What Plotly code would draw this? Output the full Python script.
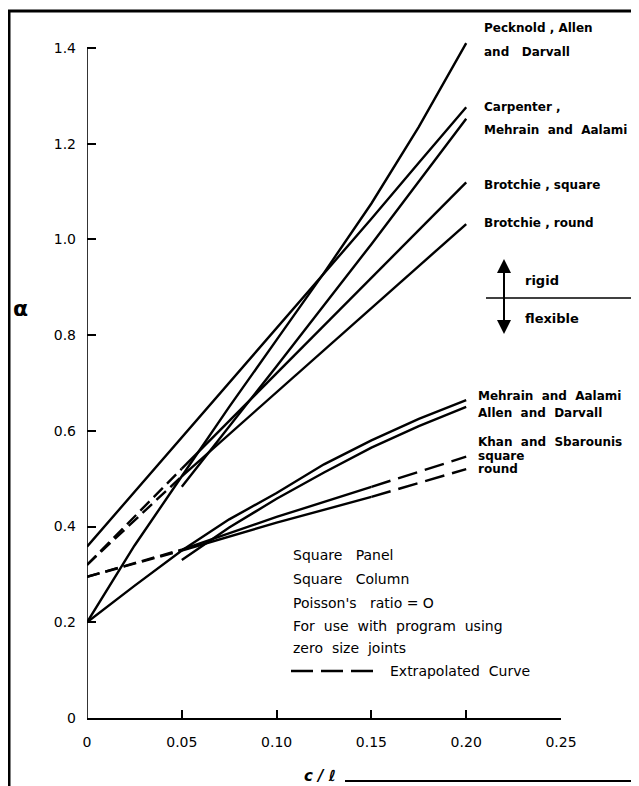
import plotly.graph_objects as go

# ---------------- data ----------------
cl_full = [0, 0.025, 0.05, 0.075, 0.10, 0.125, 0.15, 0.175, 0.20]
pecknold = [0.20, 0.36, 0.505, 0.65, 0.79, 0.93, 1.075, 1.235, 1.41]
carpenter = [0.358, 0.472, 0.586, 0.70, 0.815, 0.93, 1.043, 1.16, 1.276]
mehrain_flex = [0.20, 0.276, 0.35, 0.415, 0.47, 0.53, 0.58, 0.625, 0.664]

cl_solid_mid = [0.05, 0.10, 0.15, 0.20]
mehrain_rigid = [0.483, 0.735, 0.99, 1.252]
brotchie_sq = [0.521, 0.72, 0.92, 1.119]
brotchie_rd = [0.505, 0.68, 0.857, 1.032]

cl_extrap_left = [0, 0.05]
brotchie_sq_ext = [0.32, 0.521]
brotchie_rd_ext = [0.32, 0.505]

cl_allen = [0.05, 0.075, 0.10, 0.125, 0.15, 0.175, 0.20]
allen = [0.33, 0.398, 0.458, 0.513, 0.565, 0.610, 0.650]

cl_khan_solid = [0.05, 0.10, 0.15]
khan_sq = [0.352, 0.42, 0.483]
khan_rd = [0.35, 0.408, 0.462]
khan_sq_left = [0.295, 0.352]
khan_rd_left = [0.295, 0.35]
cl_extrap_right = [0.15, 0.20]
khan_sq_right = [0.483, 0.546]
khan_rd_right = [0.462, 0.520]

x_ticks = [0, 0.05, 0.10, 0.15, 0.20, 0.25]
x_ticktext = ["0", "0.05", "0.10", "0.15", "0.20", "0.25"]
y_ticks = [0, 0.2, 0.4, 0.6, 0.8, 1.0, 1.2, 1.4]
y_ticktext = ["0", "0.2", "0.4", "0.6", "0.8", "1.0", "1.2", "1.4"]

labels_rigid = ["Pecknold , Allen", "and   Darvall", "Carpenter ,",
                "Mehrain  and  Aalami", "Brotchie , square", "Brotchie , round"]
labels_flex = ["Mehrain  and  Aalami", "Allen  and  Darvall",
               "Khan  and  Sbarounis", "square", "round"]
note_lines = ["Square   Panel", "Square   Column", "Poisson's   ratio = O",
              "For  use  with  program  using", "zero  size  joints"]

# ---------------- layout geometry ----------------
# the page body has an 8px margin, so the figure is drawn 8px in from the corner
OFF = 8
W, H = 631, 778
ML, MR, MT, MB = 79, 78, 16, 68
PW, PH = W - ML - MR, H - MT - MB


def px(x):
    """reference-screenshot x pixel -> paper fraction"""
    return (x - OFF - ML) / PW


def py(y):
    """reference-screenshot y pixel -> paper fraction"""
    return (H - MB - (y - OFF)) / PH


FONT = "DejaVu Sans"
LW = 2.4
solid = dict(color="black", width=LW)
dash_short = dict(color="black", width=LW, dash="13px,6px")
dash_long = dict(color="black", width=LW, dash="20px,8px")

fig = go.Figure()


def add(x, y, line):
    fig.add_trace(go.Scatter(x=x, y=y, mode="lines", line=line,
                             showlegend=False, hoverinfo="skip"))


add(cl_full, pecknold, solid)
add(cl_full, carpenter, solid)
add(cl_solid_mid, mehrain_rigid, solid)
add(cl_solid_mid, brotchie_sq, solid)
add(cl_solid_mid, brotchie_rd, solid)
add(cl_extrap_left, brotchie_sq_ext, dash_short)
add(cl_extrap_left, brotchie_rd_ext, dash_short)
add(cl_full, mehrain_flex, solid)
add(cl_allen, allen, solid)
add(cl_khan_solid, khan_sq, solid)
add(cl_khan_solid, khan_rd, solid)
add(cl_extrap_left, khan_sq_left, dash_short)
add(cl_extrap_left, khan_rd_left, dash_short)
add(cl_extrap_right, khan_sq_right, dash_long)
add(cl_extrap_right, khan_rd_right, dash_long)

ann = []
LAB = dict(family=FONT, size=12, color="black")
rigid_y = [28, 52, 107, 130, 185, 223]
for t, yy in zip(labels_rigid, rigid_y):
    ann.append(dict(x=px(482), y=py(yy), xref="paper", yref="paper",
                    text="<b>" + t + "</b>", showarrow=False,
                    xanchor="left", yanchor="middle", font=LAB))
flex_y = [396, 413, 442, 456, 469]
for t, yy in zip(labels_flex, flex_y):
    ann.append(dict(x=px(476), y=py(yy), xref="paper", yref="paper",
                    text="<b>" + t + "</b>", showarrow=False,
                    xanchor="left", yanchor="middle", font=LAB))
ann.append(dict(x=px(523), y=py(281), xref="paper", yref="paper",
                text="<b>rigid</b>", showarrow=False, xanchor="left",
                yanchor="middle", font=dict(family=FONT, size=13, color="black")))
ann.append(dict(x=px(523), y=py(318), xref="paper", yref="paper",
                text="<b>flexible</b>", showarrow=False, xanchor="left",
                yanchor="middle", font=dict(family=FONT, size=13, color="black")))
# double arrow
ann.append(dict(x=px(504), y=py(259), xref="paper", yref="paper", text="",
                showarrow=True, ax=0, ay=40, arrowhead=2, arrowsize=1.4,
                arrowwidth=2, arrowcolor="black"))
ann.append(dict(x=px(504), y=py(334), xref="paper", yref="paper", text="",
                showarrow=True, ax=0, ay=-40, arrowhead=2, arrowsize=1.4,
                arrowwidth=2, arrowcolor="black"))
# note block
note_y = [555, 579, 603, 626, 648]
for t, yy in zip(note_lines, note_y):
    ann.append(dict(x=px(291), y=py(yy), xref="paper", yref="paper", text=t,
                    showarrow=False, xanchor="left", yanchor="middle",
                    font=dict(family=FONT, size=14, color="black")))
ann.append(dict(x=px(388), y=py(671), xref="paper", yref="paper",
                text="Extrapolated  Curve", showarrow=False, xanchor="left",
                yanchor="middle", font=dict(family=FONT, size=14, color="black")))
# axis titles
ann.append(dict(x=px(20), y=py(308), xref="paper", yref="paper", text="<b>α</b>",
                showarrow=False, xanchor="center", yanchor="middle",
                font=dict(family=FONT, size=22, color="black")))
ann.append(dict(x=px(320), y=py(776), xref="paper", yref="paper",
                text="<b><i>c / ℓ</i></b>", showarrow=False, xanchor="center",
                yanchor="middle", font=dict(family=FONT, size=15, color="black")))

shapes = [
    dict(type="line", xref="x", yref="y", x0=0, x1=0, y0=0, y1=1.4,
         line=dict(color="black", width=1.6)),
    dict(type="line", xref="paper", yref="paper", x0=px(9), x1=px(9),
         y0=py(11), y1=py(786), line=dict(color="black", width=3)),
    dict(type="line", xref="paper", yref="paper", x0=px(8), x1=px(636),
         y0=py(11), y1=py(11), line=dict(color="black", width=3)),
    dict(type="line", xref="paper", yref="paper", x0=px(345), x1=px(639),
         y0=py(781), y1=py(781), line=dict(color="black", width=2)),
    dict(type="line", xref="paper", yref="paper", x0=px(486), x1=px(635),
         y0=py(298), y1=py(298), line=dict(color="black", width=1.5)),
    dict(type="line", xref="paper", yref="paper", x0=px(291), x1=px(377),
         y0=py(671), y1=py(671),
         line=dict(color="black", width=2.4, dash="22px,8px")),
]

fig.update_layout(
    width=W, height=H, autosize=False,
    margin=dict(l=ML, r=MR, t=MT, b=MB),
    paper_bgcolor="white", plot_bgcolor="white",
    font=dict(family=FONT, color="black"),
    annotations=ann, shapes=shapes, showlegend=False,
    xaxis=dict(range=[0, 0.25], showgrid=False, zeroline=False,
               showline=True, linecolor="black", linewidth=1.6,
               ticks="inside", ticklen=8, tickwidth=1.6, tickcolor="black",
               tickvals=x_ticks, ticktext=x_ticktext, ticklabelstandoff=10,
               tickfont=dict(family=FONT, size=14, color="black")),
    yaxis=dict(range=[0, 1.45], showgrid=False, zeroline=False,
               showline=False, ticks="inside", ticklen=9, tickwidth=1.6,
               tickcolor="black", tickvals=y_ticks, ticktext=y_ticktext,
               ticklabelstandoff=10,
               tickfont=dict(family=FONT, size=14, color="black")),
)

fig.write_html("out.html")
